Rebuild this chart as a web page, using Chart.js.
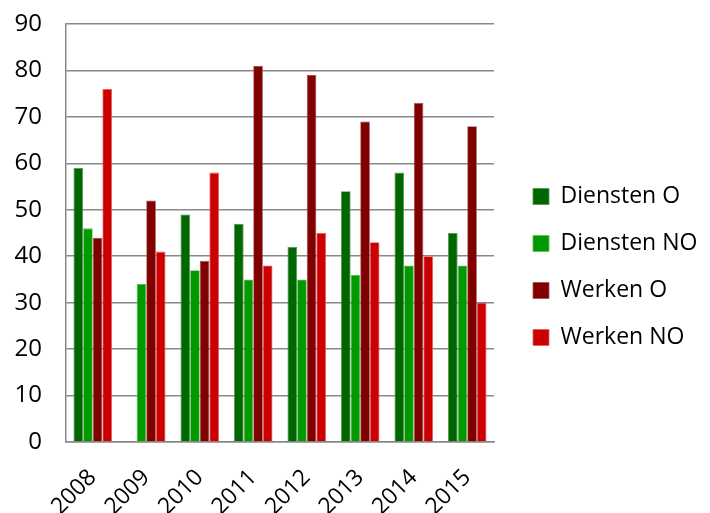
<!DOCTYPE html>
<html>
<head>
<meta charset="utf-8">
<script src="https://cdn.jsdelivr.net/npm/chart.js@4/dist/chart.umd.min.js"></script>
<style>
html,body{margin:0;padding:0;background:#fff;}
#wrap{width:710px;height:513px;position:relative;}
</style>
</head>
<body>
<div id="wrap"><canvas id="c"></canvas></div>
<script>
const categories = ['2008','2009','2010','2011','2012','2013','2014','2015'];
const dienstenO  = [59, null, 49, 47, 42, 54, 58, 45];
const dienstenNO = [46, 34, 37, 35, 35, 36, 38, 38];
const werkenO    = [44, 52, 39, 81, 79, 69, 73, 68];
const werkenNO   = [76, 41, 58, 38, 45, 43, 40, 30];
const seriesNames = ['Diensten O','Diensten NO','Werken O','Werken NO'];
const yTicks = [0,10,20,30,40,50,60,70,80,90];

const colors = ['#006600','#009900','#800000','#cc0000'];
const borders = ['#4f944f','#5cbf5c','#a05050','#e06060'];
const FONT = "'Open Sans', sans-serif";

const data = {
  labels: categories,
  datasets: [dienstenO, dienstenNO, werkenO, werkenNO].map((d, i) => ({
    label: seriesNames[i],
    data: d,
    backgroundColor: colors[i],
    borderColor: borders[i],
    borderWidth: 0.8,
    borderSkipped: 'bottom',
    categoryPercentage: 0.72,
    barPercentage: 1.0
  }))
};

const legendWidthPlugin = {
  id: 'legendWidth',
  beforeInit(chart) {
    const lg = chart.legend;
    if (!lg) return;
    const origFit = lg.fit.bind(lg);
    lg.fit = function () { this.maxWidth = 260; origFit(); this.width = 201; };
  }
};

new Chart(document.getElementById('c'), {
  type: 'bar',
  data,
  plugins: [legendWidthPlugin],
  options: {
    responsive: true,
    maintainAspectRatio: false,
    animation: false,
    layout: { padding: { top: 21, left: 0, right: 0, bottom: 0 } },
    plugins: {
      tooltip: { enabled: false },
      legend: {
        position: 'right',
        labels: {
          font: { family: FONT, size: 23 },
          color: '#000',
          boxWidth: 16,
          boxHeight: 16,
          padding: 24
        }
      }
    },
    scales: {
      x: {
        grid: { display: false, drawTicks: false },
        border: { display: true, color: '#888', width: 1.5 },
        ticks: {
          font: { family: FONT, size: 23 },
          color: '#000',
          minRotation: 45,
          maxRotation: 45,
          padding: 22
        },
        afterFit(s) { s.height = 71; }
      },
      y: {
        min: 0,
        max: 90,
        afterBuildTicks(s) { s.ticks = yTicks.map(v => ({ value: v })); },
        grid: { color: '#888', lineWidth: 1.5, drawTicks: false },
        border: { display: true, color: '#888', width: 1.5 },
        ticks: {
          font: { family: FONT, size: 24 },
          color: '#000',
          padding: 24
        },
        afterFit(s) { s.width = 66; s.paddingTop = 24; s.paddingBottom = 0; }
      },
      y2: {
        position: 'right',
        display: true,
        grid: { display: false, drawTicks: false },
        border: { display: false },
        ticks: { display: false },
        afterFit(s) { s.width = 15; }
      }
    }
  }
});
</script>
</body>
</html>
